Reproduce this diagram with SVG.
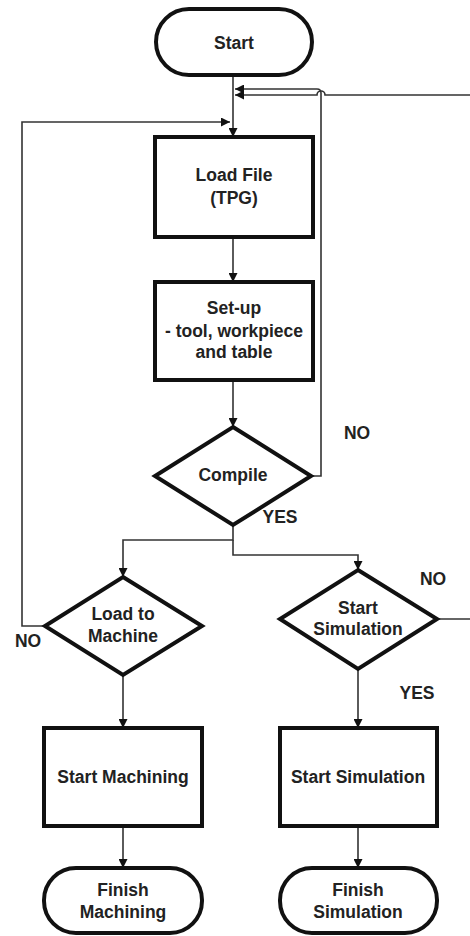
<svg xmlns="http://www.w3.org/2000/svg" width="470" height="936" viewBox="0 0 470 936">
  <style>
    .node { fill: #ffffff; stroke: #111111; stroke-width: 4; }
    .txt { font-family: "Liberation Sans", Arial, sans-serif; font-weight: bold; font-size: 17.5px; fill: #222222; text-anchor: middle; }
    .lbl { font-family: "Liberation Sans", Arial, sans-serif; font-weight: bold; font-size: 17.5px; fill: #222222; text-anchor: middle; }
    .conn { fill: none; stroke: #333333; stroke-width: 1.6; }
    .arr { marker-end: url(#ah); }
  </style>
  <defs>
    <marker id="ah" viewBox="0 0 10 10" refX="10" refY="5" markerWidth="9" markerHeight="9" markerUnits="userSpaceOnUse" orient="auto">
      <path d="M0,0 L10,5 L0,10 z" fill="#111111"/>
    </marker>
  </defs>
  <rect width="470" height="936" fill="#ffffff"/>

  <g id="connectors">
    <path class="conn arr" d="M233,75 V137"/>
    <path class="conn arr" d="M233,237 V282"/>
    <path class="conn arr" d="M233,380 V427"/>
    <path class="conn arr" d="M311,476 H321 V93 Q321,89 317,89 H235"/>
    <path class="conn arr" d="M470,95 H325 A4,4 0 0 0 317,95 H235"/>
    <path class="conn arr" d="M233,525 V540 H123 V577"/>
    <path class="conn arr" d="M233,540 V555 H358 V570"/>
    <path class="conn arr" d="M45,626 H22 V122 H230"/>
    <path class="conn" d="M437,619 H470"/>
    <path class="conn arr" d="M123,675 V728"/>
    <path class="conn arr" d="M358,669 V728"/>
    <path class="conn arr" d="M123,826 V868"/>
    <path class="conn arr" d="M358,826 V868"/>
    <text class="lbl" x="357" y="439">NO</text>
    <text class="lbl" x="280" y="523">YES</text>
    <text class="lbl" x="28" y="647">NO</text>
    <text class="lbl" x="433" y="585">NO</text>
    <text class="lbl" x="417" y="699">YES</text>
  </g>

  <g id="start">
    <rect class="node" x="156" y="9" width="156" height="66" rx="33" ry="33"/>
    <text class="txt" x="234" y="49">Start</text>
  </g>

  <g id="load-file">
    <rect class="node" x="155" y="137" width="158" height="100"/>
    <text class="txt" x="234" y="181">Load File</text>
    <text class="txt" x="234" y="204">(TPG)</text>
  </g>

  <g id="setup">
    <rect class="node" x="155" y="282" width="158" height="98"/>
    <text class="txt" x="234" y="314">Set-up</text>
    <text class="txt" x="234" y="337">- tool, workpiece</text>
    <text class="txt" x="234" y="358">and table</text>
  </g>

  <g id="compile">
    <polygon class="node" points="233,427 311,476 233,525 155,476"/>
    <text class="txt" x="233" y="481">Compile</text>
  </g>

  <g id="load-to-machine">
    <polygon class="node" points="123,577 202,626 123,675 45,626"/>
    <text class="txt" x="123" y="620">Load to</text>
    <text class="txt" x="123" y="642">Machine</text>
  </g>

  <g id="start-simulation-decision">
    <polygon class="node" points="358,570 437,619 358,669 280,619"/>
    <text class="txt" x="358" y="614">Start</text>
    <text class="txt" x="358" y="635">Simulation</text>
  </g>

  <g id="start-machining">
    <rect class="node" x="44" y="728" width="158" height="98"/>
    <text class="txt" x="123" y="783">Start Machining</text>
  </g>

  <g id="start-simulation">
    <rect class="node" x="280" y="728" width="157" height="98"/>
    <text class="txt" x="358" y="783">Start Simulation</text>
  </g>

  <g id="finish-machining">
    <rect class="node" x="44" y="868" width="158" height="65" rx="32" ry="32"/>
    <text class="txt" x="123" y="896">Finish</text>
    <text class="txt" x="123" y="918">Machining</text>
  </g>

  <g id="finish-simulation">
    <rect class="node" x="280" y="868" width="157" height="65" rx="32" ry="32"/>
    <text class="txt" x="358" y="896">Finish</text>
    <text class="txt" x="358" y="918">Simulation</text>
  </g>
</svg>
